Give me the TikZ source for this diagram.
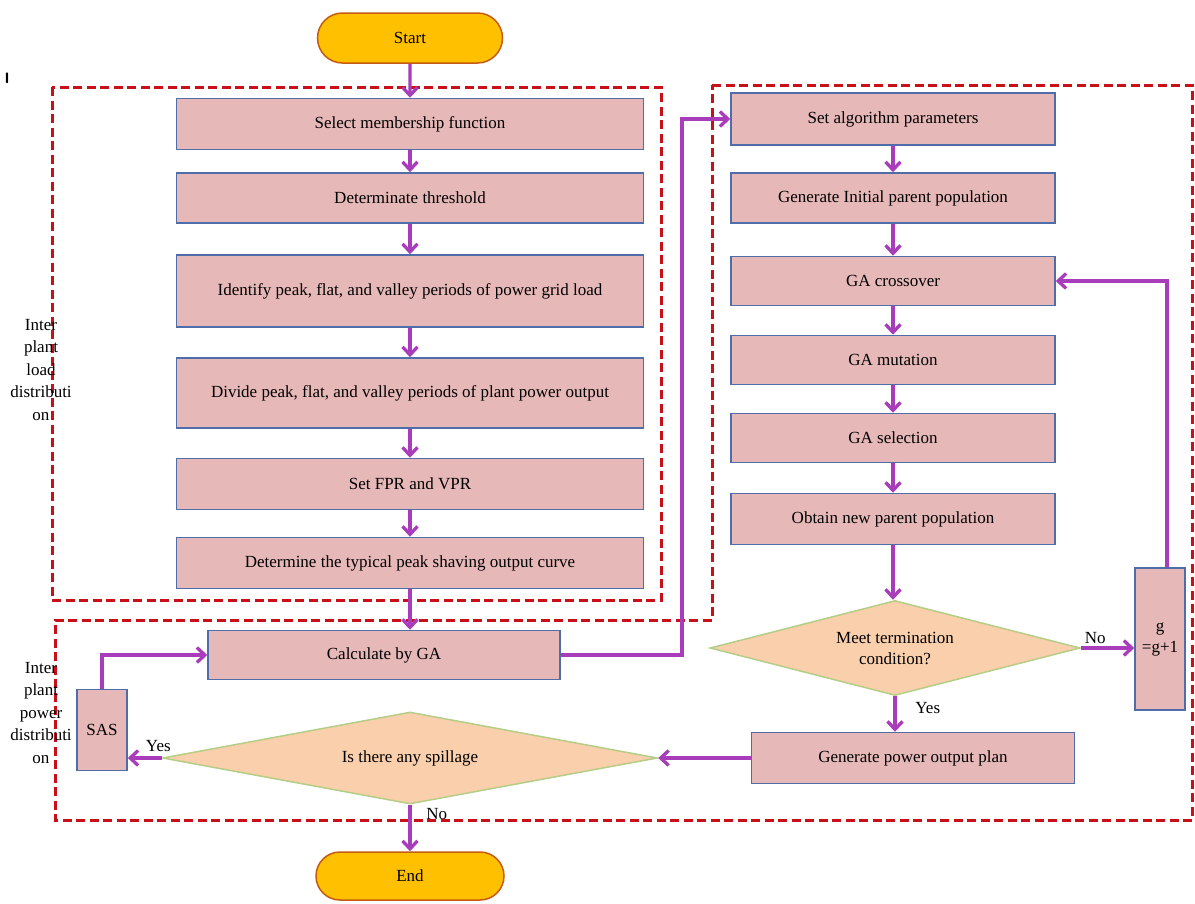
\documentclass[tikz,border=0pt]{standalone}
\usepackage{fontspec}
\setmainfont{Liberation Serif}
\usepackage{tikz}
\usetikzlibrary{shapes.geometric}
\usetikzlibrary{shapes.misc}
\usetikzlibrary{arrows.meta}

\tikzset{
  procbox/.style={draw={rgb, 255:red, 79; green, 109; blue, 168 }, line width=1.5pt, fill={rgb, 255:red, 230; green, 184; blue, 183 }, inner sep=0.75pt, align=center, font=\fontsize{17}{21}\selectfont},
  decide/.style={diamond, aspect=4, draw={rgb, 255:red, 181; green, 205; blue, 135 }, line width=1.5pt, fill={rgb, 255:red, 250; green, 207; blue, 172 }, inner sep=0pt, align=center, font=\fontsize{17}{21}\selectfont},
  terminal/.style={rounded rectangle, draw={rgb, 255:red, 197; green, 90; blue, 17 }, line width=1.5pt, fill={rgb, 255:red, 255; green, 192; blue, 0 }, inner sep=0pt, font=\fontsize{17}{21}\selectfont},
  flow/.style={draw={rgb, 255:red, 168; green, 60; blue, 186 }, line width=3.3pt, -{Straight Barb[length=8pt,width=15pt,line width=3.3pt]}},
  zone/.style={draw={rgb, 255:red, 200; green, 16; blue, 24 }, line width=3pt, dash pattern=on 9pt off 4.5pt},
  sidelabel/.style={anchor=center, inner sep=0.75pt, align=center, font=\fontsize{17}{22.5}\selectfont},
  answer/.style={inner sep=0.75pt, font=\fontsize{17}{21}\selectfont}
}

\begin{document}
\begin{tikzpicture}[x=1pt,y=1pt,yscale=-1,xscale=1]
\useasboundingbox (0,0) rectangle (1195,903);
\draw [zone] (52,87) rectangle (661,600) ;
\draw [zone] (712,85) -- (1192,85) -- (1192,820) -- (55,820) -- (55,620) -- (712,620) -- cycle ;
\node [anchor=center, inner sep=0pt, font=\sffamily\bfseries\fontsize{15}{15}\selectfont] (mark) at (7,78) {I};
\node [terminal, minimum width=185pt, minimum height=50pt] (start) at (410,38) {Start};
\node [procbox, minimum width=467pt, minimum height=51pt] (member) at (410,124) {Select membership function};
\node [procbox, minimum width=467pt, minimum height=50pt] (thresh) at (410,198) {Determinate threshold};
\node [procbox, minimum width=467pt, minimum height=72pt] (ident) at (410,291) {Identify peak, flat, and valley periods of power grid load};
\node [procbox, minimum width=467pt, minimum height=70pt] (divide) at (410,393) {Divide peak, flat, and valley periods of plant power output};
\node [procbox, minimum width=467pt, minimum height=51pt] (fprvpr) at (410,484) {Set FPR and VPR};
\node [procbox, minimum width=467pt, minimum height=51pt] (curve) at (410,563) {Determine the typical peak shaving output curve};
\node [procbox, minimum width=352pt, minimum height=49pt] (calc) at (384,655) {Calculate by GA};
\node [procbox, minimum width=324pt, minimum height=52pt] (setpar) at (893,119) {Set algorithm parameters};
\node [procbox, minimum width=324pt, minimum height=50pt] (initpop) at (893,198) {Generate Initial parent population};
\node [procbox, minimum width=324pt, minimum height=49pt] (cross) at (893,281) {GA crossover};
\node [procbox, minimum width=324pt, minimum height=49pt] (mutate) at (893,360) {GA mutation};
\node [procbox, minimum width=324pt, minimum height=49pt] (select) at (893,438) {GA selection};
\node [procbox, minimum width=324pt, minimum height=51pt] (newpop) at (893,519) {Obtain new parent population};
\node [decide, minimum width=370pt, minimum height=95pt] (term) at (895,648) {Meet termination\\condition?};
\node [procbox, minimum width=50pt, minimum height=142pt] (gcount) at (1160,639) {g\\=g+1};
\node [procbox, minimum width=323pt, minimum height=51pt] (plan) at (913,758) {Generate power output plan};
\node [decide, minimum width=495pt, minimum height=92pt] (spill) at (410,758) {Is there any spillage};
\node [procbox, minimum width=50pt, minimum height=81pt] (sas) at (102,730) {SAS};
\node [terminal, minimum width=188pt, minimum height=48pt] (end) at (410,876) {End};
\node [sidelabel] (loadlbl) at (41,370) {Inter\\plant\\load\\distributi\\on};
\node [sidelabel] (powerlbl) at (41,713) {Inter\\plant\\power\\distributi\\on};
\coordinate (bend) at (682,119);
\draw [flow] (start) -- (member);
\draw [flow] (member) -- (thresh);
\draw [flow] (thresh) -- (ident);
\draw [flow] (ident) -- (divide);
\draw [flow] (divide) -- (fprvpr);
\draw [flow] (fprvpr) -- (curve);
\draw [flow] (curve.south) -- (curve.south |- calc.north);
\draw [flow] (calc.east) -| (bend) -- (setpar.west);
\draw [flow] (setpar) -- (initpop);
\draw [flow] (initpop) -- (cross);
\draw [flow] (cross) -- (mutate);
\draw [flow] (mutate) -- (select);
\draw [flow] (select) -- (newpop);
\draw [flow] (newpop.south) -- (newpop.south |- term.north);
\draw [flow] (term.east) -- node [answer, pos=0.27, above=2pt] (nolbl) {No} (term.east -| gcount.west);
\draw [flow] ([xshift=7pt]gcount.north) |- (cross.east);
\draw [flow] (term.south) -- node [answer, pos=0.34, right=18pt] (yeslbl) {Yes} (term.south |- plan.north);
\draw [flow] (plan.west) -- (spill.east);
\draw [flow] (spill.west) -- node [answer, pos=0.1, above=4pt] (yesspill) {Yes} (spill.west -| sas.east);
\draw [flow] (sas.north) |- (calc.west);
\draw [flow] (spill.south) -- node [answer, pos=0.2, right=14pt] (nospill) {No} (end.north);
\end{tikzpicture}
\end{document}
